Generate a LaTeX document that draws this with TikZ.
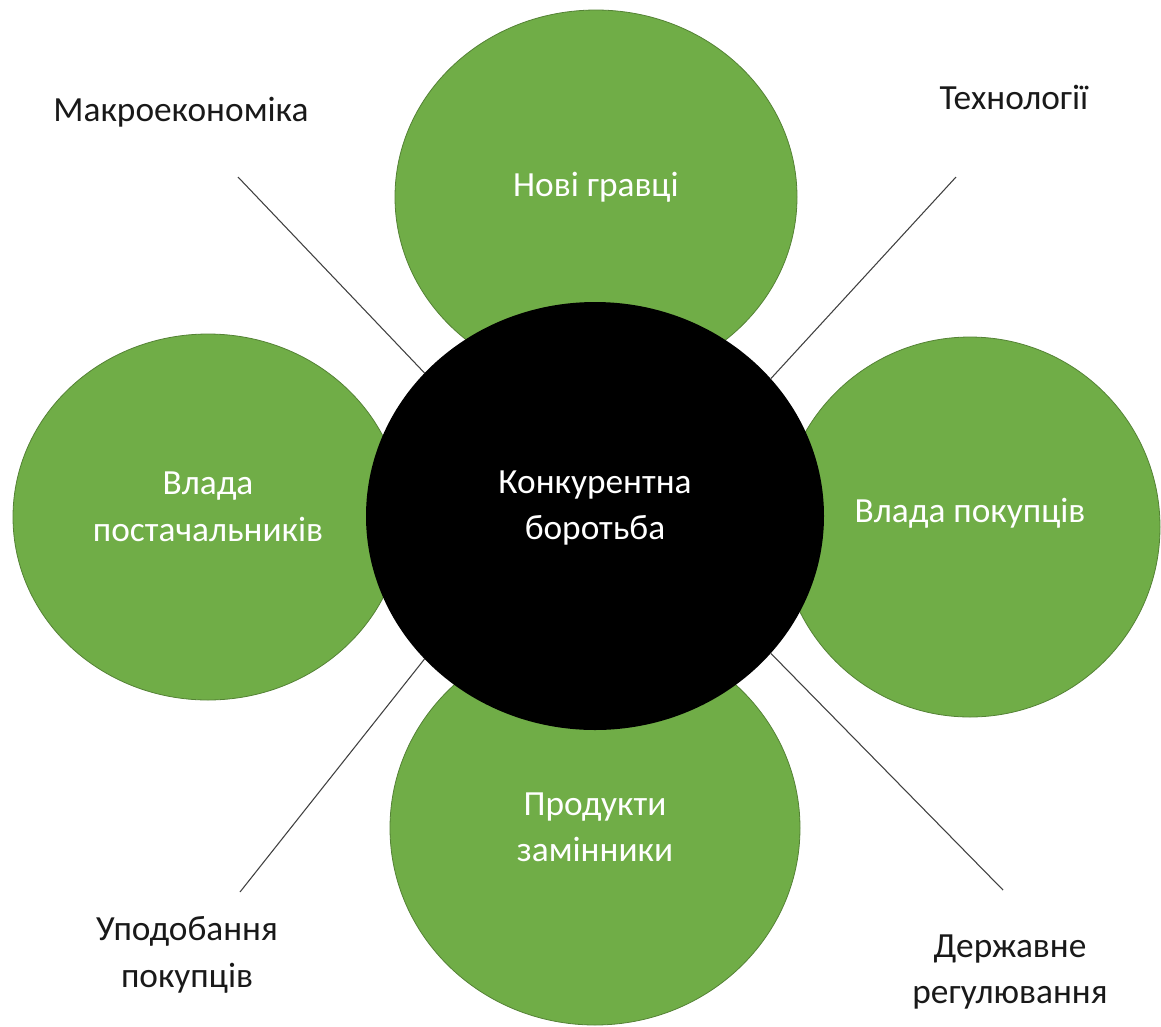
\documentclass[tikz,border=0pt]{standalone}
\usepackage{fontspec}
\setmainfont{Carlito}
\usepackage{xcolor}
\usepackage{tikz}
\usetikzlibrary{shapes.geometric, positioning}
\definecolor{leafgreen}{HTML}{70AD47}
\definecolor{leafedge}{HTML}{548235}
\definecolor{linegray}{HTML}{404040}
\tikzset{
    petal/.style={ellipse, draw=leafedge, line width=0.6pt, fill=leafgreen, inner sep=0pt},
    core/.style={ellipse, fill=black, inner sep=0pt},
    petaltext/.style={text=white, align=center, font=\fontsize{26.5}{35}\selectfont},
    factor/.style={align=center, text=black!90, font=\fontsize{26.5}{35}\selectfont},
    spoke/.style={draw=linegray, line width=0.8pt},
}

\begin{document}
\begin{tikzpicture}[x=0.75pt, y=-0.75pt]

    \useasboundingbox (0,0) rectangle (1161,1026);

    % Petals
    \node[petal, minimum width=301.5pt, minimum height=280.5pt,
          label={[petaltext, yshift=7.5pt]center:Нові гравці}] (entrants) at (596,197) {};
    \node[petal, minimum width=292.5pt, minimum height=274.5pt,
          label={[petaltext, yshift=7.5pt]center:Влада\\постачальників}] (suppliers) at (208,517) {};
    \node[petal, minimum width=285pt, minimum height=285pt,
          label={[petaltext, yshift=10pt]center:Влада покупців}] (buyers) at (970,527) {};
    \node[petal, minimum width=307.5pt, minimum height=295.5pt,
          label={[petaltext, yshift=0.5pt]center:Продукти\\замінники}] (substitutes) at (595,828) {};

    % Outer factors
    \node[factor] (macro) at (181,112) {Макроекономіка};
    \node[factor] (tech) at (1014,97) {Технології};
    \node[factor] (prefs) at (187,955) {Уподобання\\покупців};
    \node[factor] (state) at (1010,972) {Державне\\регулювання};

    % Spoke ends
    \coordinate (macroend) at (238,177);
    \coordinate (techend) at (956,177);
    \coordinate (prefsend) at (240,892);
    \coordinate (stateend) at (1003,890);

    % Centre
    \node[core, minimum width=343.5pt, minimum height=321pt,
          label={[petaltext, yshift=6pt]center:Конкурентна\\боротьба}] (rivalry) at (595,516) {};

    % Spokes
    \draw[spoke] (macroend) -- (rivalry.140.4);
    \draw[spoke] (techend) -- (rivalry.38.5);
    \draw[spoke] (prefsend) -- (rivalry.220.5);
    \draw[spoke] (stateend) -- (rivalry.322.3);

\end{tikzpicture}
\end{document}
